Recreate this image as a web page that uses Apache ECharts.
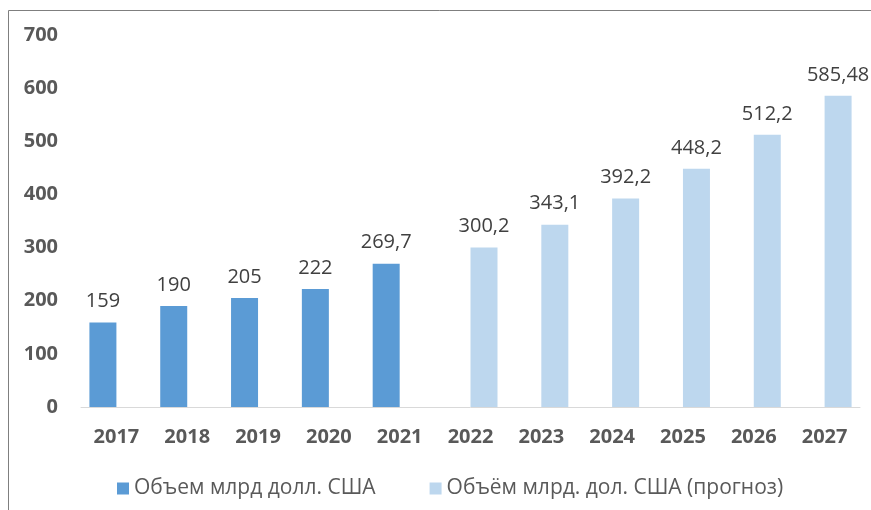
<!DOCTYPE html>
<html>
<head>
<meta charset="utf-8">
<script src="https://cdn.jsdelivr.net/npm/echarts@6/dist/echarts.min.js"></script>
<style>
  html, body { margin: 0; padding: 0; background: #fff; }
  #chart { width: 871px; height: 510px; }
</style>
</head>
<body>
<div id="chart"></div>
<script>
// years on the x axis
var years = ['2017', '2018', '2019', '2020', '2021', '2022', '2023', '2024', '2025', '2026', '2027'];
// actual volume, bn USD
var actual = [159, 190, 205, 222, 269.7, '-', '-', '-', '-', '-', '-'];
// forecast volume, bn USD
var forecast = ['-', '-', '-', '-', '-', 300.2, 343.1, 392.2, 448.2, 512.2, 585.48];

var font = '"Open Sans", "Noto Sans", sans-serif';

function commaLabel(p) {
    return String(p.value).replace('.', ',');
}

var chart = echarts.init(document.getElementById('chart'));
chart.setOption({
    animation: false,
    backgroundColor: '#ffffff',
    textStyle: { fontFamily: font },
    graphic: [{
        type: 'polyline',
        shape: { points: [[8.5, 510], [8.5, 10.5], [871, 10.5]] },
        style: { stroke: '#7f7f7f', lineWidth: 1, fill: null }
    }],
    grid: { left: 81, right: 11, top: 35, bottom: 103 },
    legend: {
        top: 473,
        left: 112,
        itemWidth: 12,
        itemHeight: 12,
        itemGap: 54,
        icon: 'rect',
        textStyle: { fontFamily: font, fontSize: 21, color: '#595959' },
        data: ['Объем млрд долл. США', 'Объём млрд. дол. США (прогноз)']
    },
    xAxis: {
        type: 'category',
        data: years,
        axisLine: { lineStyle: { color: '#d9d9d9', width: 1 } },
        axisTick: { show: false },
        axisLabel: { margin: 20, fontFamily: font, fontSize: 20, fontWeight: 'bold', color: '#595959' }
    },
    yAxis: {
        type: 'value',
        min: 0,
        max: 700,
        interval: 100,
        splitLine: { show: false },
        axisLine: { show: false },
        axisTick: { show: false },
        axisLabel: { margin: 23, fontFamily: font, fontSize: 20, fontWeight: 'bold', color: '#595959' }
    },
    series: [{
        name: 'Объем млрд долл. США',
        type: 'bar',
        data: actual,
        barWidth: 27,
        barGap: '0%',
        itemStyle: { color: '#5b9bd5' },
        label: {
            show: true, position: 'top', distance: 11,
            fontFamily: font, fontSize: 20, color: '#404040',
            formatter: commaLabel
        }
    }, {
        name: 'Объём млрд. дол. США (прогноз)',
        type: 'bar',
        data: forecast,
        barWidth: 27,
        barGap: '0%',
        itemStyle: { color: '#bdd7ee' },
        label: {
            show: true, position: 'top', distance: 11,
            fontFamily: font, fontSize: 20, color: '#404040',
            formatter: commaLabel
        }
    }]
});
</script>
</body>
</html>
